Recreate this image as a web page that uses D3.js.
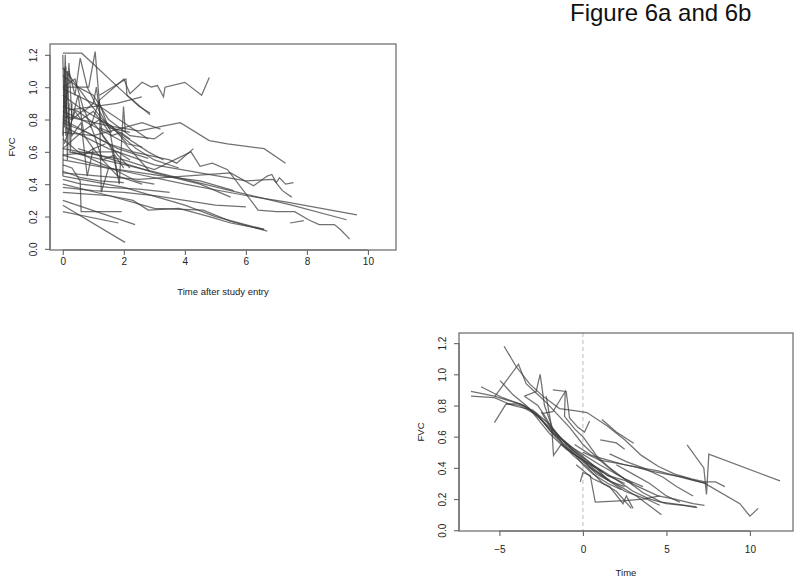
<!DOCTYPE html>
<html>
<head>
<meta charset="utf-8">
<script src="https://cdn.jsdelivr.net/npm/d3@7"></script>
<style>
  body { margin: 0; background: #fff; }
  svg { display: block; font-family: "Liberation Sans", Arial, sans-serif; }
</style>
</head>
<body>
<script>
// spaghetti plots, values (time, FVC) per subject

const titleText = 'Figure 6a and 6b'

// panel a: time after study entry
const xTicksA = [0, 2, 4, 6, 8, 10]
const yTicks = [0.0, 0.2, 0.4, 0.6, 0.8, 1.0, 1.2]
const subjectsA = [
  [[0,1.21],[0.62,1.21],[2.04,0.96],[2.86,0.83]],
  [[1.2,0.92],[2.0,1.05],[2.2,0.96],[2.6,1.03],[2.9,1.0],[3.1,1.01],[3.3,0.94],[3.35,1.0],[4.0,1.03],[4.55,0.95],[4.8,1.06]],
  [[0.1,0.82],[1.5,0.76],[2.5,0.73],[3.85,0.78],[4.8,0.67],[5.4,0.65],[6.6,0.62],[7.3,0.53]],
  [[0,0.47],[1.2,0.45],[2.5,0.43],[4.0,0.45],[5.5,0.47],[6.25,0.39],[6.7,0.45],[6.85,0.46],[7.0,0.41],[7.1,0.44],[7.3,0.40],[7.56,0.41]],
  [[0.1,0.75],[1.5,0.62],[3.0,0.52],[4.5,0.47],[6.0,0.42],[6.9,0.43],[7.2,0.36],[7.5,0.32]],
  [[0,0.55],[2,0.48],[4,0.40],[6,0.33],[7.3,0.29],[9.64,0.21]],
  [[0.2,0.6],[2.5,0.50],[5.5,0.36],[7.5,0.27],[9.3,0.18]],
  [[0,0.62],[2,0.55],[3,0.49],[4.2,0.6],[4.5,0.51],[4.9,0.53],[5.4,0.49],[6.4,0.24],[7.0,0.23],[7.6,0.23],[8.05,0.18],[8.4,0.15],[8.9,0.15],[9.1,0.12],[9.4,0.06]],
  [[7.45,0.16],[7.9,0.175]],
  [[0,0.40],[1.5,0.33],[3.0,0.25],[4.6,0.24],[5.5,0.17],[6.7,0.11]],
  [[0,0.45],[2,0.38],[4,0.27],[5,0.20],[6.6,0.12]],
  [[0,0.58],[1.5,0.5],[3.3,0.45],[4.5,0.42],[5.6,0.36]],
  [[0.5,0.62],[3,0.47],[4.5,0.40],[5.5,0.32]],
  [[0,0.30],[2.37,0.15]],
  [[0,0.27],[2.04,0.04]],
  [[0,0.23],[1.82,0.16]],
  [[0,0.52],[0.3,0.50],[0.57,0.42],[0.6,0.23],[1.93,0.23]],
  [[0,0.35],[1.5,0.33],[2.3,0.30],[2.8,0.24],[3.8,0.25],[4.8,0.20],[5.5,0.16],[6.6,0.12]],
  [[0.1,1.0],[0.85,1.0],[1.06,1.22],[1.2,0.9],[1.5,0.75],[2.2,0.72]],
  [[0.2,1.1],[0.4,0.95],[0.57,1.18],[0.8,1.0],[1.2,0.85],[1.6,0.72]],
  [[1.2,0.95],[2.07,1.05],[2.1,0.95],[2.5,0.88],[2.86,0.84]],
  [[0.2,0.86],[1.0,0.88],[1.77,0.90],[2.59,0.94]],
  [[0,0.99],[1.22,0.88],[2.0,0.78],[2.8,0.68]],
  [[1.2,0.75],[1.55,0.72],[1.85,0.40],[1.99,0.88],[2.05,0.72]],
  [[0.9,0.75],[1.2,0.92],[1.26,0.35],[1.5,0.5]],
  [[0,0.45],[0.05,1.12],[0.1,0.7],[0.15,1.1],[0.25,0.6],[0.3,0.9]],
  [[0,0.7],[0.08,1.2],[0.12,0.85],[0.2,1.15],[0.3,0.8],[0.5,0.95],[0.7,0.7],[1.0,0.62]],
  [[0,1.12],[0.3,1.05],[0.8,0.92],[1.3,0.8],[2.0,0.70],[2.8,0.60],[3.3,0.55]],
  [[0,1.07],[0.5,1.0],[1.0,0.95],[1.5,0.80],[2.2,0.70],[3.0,0.68],[3.3,0.72]],
  [[0,0.85],[0.6,0.80],[1.4,0.72],[2.0,0.66],[2.84,0.48]],
  [[0,0.80],[1.0,0.70],[1.8,0.62],[2.8,0.56]],
  [[0,0.78],[0.8,0.72],[1.5,0.65],[2.3,0.60],[3.5,0.55],[3.73,0.53],[4.28,0.62]],
  [[0,0.95],[0.5,0.88],[1.2,0.80],[1.8,0.72],[2.4,0.62],[3.0,0.55],[3.8,0.50]],
  [[0.3,0.6],[0.7,0.58],[1.0,0.62],[1.3,0.55],[1.7,0.58],[2.0,0.5]],
  [[0.05,0.92],[0.3,0.7],[0.6,0.78],[0.8,0.45],[1.0,0.62],[1.4,0.65]],
  [[0,0.68],[0.5,0.6],[1.0,0.55],[1.8,0.48],[2.4,0.42],[3.0,0.40]],
  [[0,0.38],[1.0,0.36],[2.0,0.35],[3.0,0.33],[4.0,0.30],[5.0,0.27],[6.0,0.26]],
  [[0,0.43],[0.6,0.40],[1.5,0.38],[2.5,0.37],[3.5,0.35]],
  [[0,0.58],[0.5,0.59],[1.2,0.60],[1.8,0.60],[2.2,0.55]],
  [[0,1.2],[0.05,0.75],[0.1,1.13],[0.15,0.55],[0.2,0.9]],
  [[0.05,0.65],[0.4,0.85],[0.6,0.8],[1.0,0.85],[1.3,0.78],[1.6,0.70],[1.9,0.72],[2.2,0.68]],
  [[0,0.88],[0.5,0.85],[1.0,0.78],[1.4,0.68],[1.8,0.58],[2.2,0.50]],
  [[0,1.0],[0.4,1.05],[0.7,0.85],[1.0,0.9],[1.1,1.0],[1.3,0.7],[1.6,0.62],[1.8,0.45]],
  [[0,0.72],[1,0.70],[2,0.75],[2.6,0.78],[3.2,0.74]],
  [[0,0.48],[0.3,0.46],[0.6,0.44],[1.2,0.42],[2.0,0.41]],
  [[0,0.62],[0.6,0.72],[1.2,0.80],[1.6,0.76],[2.1,0.65],[2.6,0.63]],
  [[0,0.82],[0.3,0.80],[0.7,0.86],[1.0,0.72],[1.3,0.55],[1.8,0.45],[2.6,0.40]]
]

// panel b: time relative to event (dashed line at 0)
const xTicksB = [-5, 0, 5, 10]
const subjectsB = [
  [[-6.7,0.89],[-5.3,0.86],[-3.8,0.81],[-2.8,0.75],[-1.8,0.62],[-0.5,0.52],[1.0,0.42],[2.5,0.33],[3.6,0.28]],
  [[-6.7,0.86],[-5.3,0.85],[-4.2,0.80],[-3.0,0.77],[-2.0,0.68],[-1.0,0.55],[0.2,0.45],[1.5,0.35],[2.5,0.30]],
  [[-6.1,0.92],[-4.8,0.85],[-3.5,0.80],[-2.4,0.70],[-1.4,0.60],[-0.3,0.50],[0.8,0.40],[1.5,0.32]],
  [[-5.3,0.69],[-4.6,0.81],[-3.8,0.81],[-3.2,0.78],[-2.6,0.70],[-2.0,0.62],[-1.0,0.52],[0,0.45],[1.2,0.37]],
  [[-5.26,0.86],[-3.86,1.065],[-3.4,0.94],[-2.8,0.88],[-2.2,0.82],[-1.5,0.74],[-0.8,0.66],[0,0.55],[1.0,0.45],[2.0,0.36],[3.0,0.30]],
  [[-4.72,1.18],[-4.0,1.05],[-3.2,0.94],[-2.4,0.86],[-1.4,0.78],[-0.4,0.766],[0.24,0.755],[1.44,0.67],[2.5,0.58],[3.5,0.48],[4.5,0.41],[5.5,0.36],[6.5,0.33],[7.3,0.31],[7.94,0.31],[8.5,0.28]],
  [[-4.96,0.96],[-4.2,0.87],[-3.4,0.80],[-2.6,0.72],[-1.6,0.60],[-0.6,0.50],[0.4,0.40],[1.4,0.33],[2.4,0.27],[3.2,0.22],[4.7,0.10]],
  [[-3.5,0.86],[-2.8,0.89],[-2.56,1.0],[-2.3,0.80],[-1.8,0.65],[-1.2,0.55],[-0.6,0.48],[0.3,0.40],[1.2,0.30],[2.0,0.25],[2.9,0.14]],
  [[-2.4,0.75],[-1.8,0.76],[-1.06,0.89],[-1.1,0.73],[-0.5,0.65],[0,0.6],[0.8,0.48],[1.6,0.40],[2.6,0.32],[3.6,0.24],[4.7,0.18],[6.8,0.15]],
  [[-2.2,0.86],[-1.86,0.65],[-1.76,0.48],[-1.3,0.55],[-0.6,0.50],[0,0.42],[0.6,0.36],[1.5,0.30],[2.3,0.26]],
  [[-1.8,0.9],[-1.0,0.89],[-0.8,0.72],[-0.3,0.66],[0.1,0.63],[0.4,0.70]],
  [[-0.16,0.31],[0.0,0.37],[0.44,0.35],[0.74,0.18],[2.5,0.19],[3.6,0.20],[4.6,0.22]],
  [[1.14,0.71],[2.0,0.63],[3.04,0.558]],
  [[1.04,0.58],[2.0,0.56],[2.5,0.52]],
  [[-0.5,0.55],[0.5,0.48],[1.5,0.45],[2.5,0.42],[3.5,0.40],[4.5,0.38],[5.5,0.35],[6.6,0.32],[7.4,0.30]],
  [[0,0.50],[1.0,0.45],[2.0,0.43],[3.0,0.41],[4.0,0.38],[5.0,0.36],[6.0,0.34],[7.3,0.30],[9.4,0.17],[10.0,0.09],[10.5,0.14]],
  [[6.24,0.548],[7.24,0.40],[7.4,0.23],[7.54,0.488],[11.8,0.317]],
  [[0.5,0.42],[1.5,0.35],[2.5,0.32],[3.5,0.27],[4.5,0.22],[5.5,0.20],[6.6,0.17],[7.28,0.16]],
  [[0.2,0.44],[1.2,0.38],[2.2,0.31],[3.0,0.25],[4.0,0.20],[5.0,0.17],[6.0,0.16],[6.84,0.145]],
  [[1.6,0.49],[2.6,0.44],[3.6,0.40],[4.8,0.34],[5.6,0.28],[6.6,0.22]],
  [[-0.4,0.42],[0.6,0.33],[1.6,0.28],[2.4,0.17],[2.6,0.22],[3.0,0.14]],
  [[2.0,0.42],[3.0,0.36],[4.0,0.30],[5.0,0.22],[5.8,0.18]],
  [[-3.5,0.86],[-2.7,0.80],[-2.2,0.72],[-1.9,0.66],[-1.4,0.60],[-0.7,0.52],[0,0.46],[0.7,0.39],[1.6,0.32]],
  [[-4.6,0.81],[-3.8,0.80],[-2.6,0.73],[-2.0,0.64],[-1.3,0.56],[-0.6,0.49],[0,0.45],[0.8,0.36],[1.7,0.31],[2.5,0.28]],
  [[-2.5,0.76],[-1.8,0.63],[-1.0,0.56],[-0.3,0.48],[0.5,0.40],[1.5,0.32],[2.5,0.25],[3.8,0.20],[4.6,0.16]]
]

const panels = [
  { data: subjectsA, xTicks: xTicksA, xlim: [-0.42, 10.92], ylim: [-0.007, 1.267],
    box: {x0: 50, x1: 396, y0: 44, y1: 250}, xlab: 'Time after study entry', ylabX: 12,
    xPad: 3, refLine: false },
  { data: subjectsB, xTicks: xTicksB, xlim: [-7.42, 12.58], ylim: [-0.005, 1.265],
    box: {x0: 459, x1: 793, y0: 333, y1: 531}, xlab: 'Time', ylabX: 421,
    xPad: 10, refLine: true }
]

const svg = d3.select('body').append('svg')
  .attr('width', 800)
  .attr('height', 582)

svg.append('text')
  .attr('x', 570).attr('y', 21)
  .style('font-size', '24px')
  .attr('fill', '#111')
  .text(titleText)

const lineColor = '#3a3a3a'
const axisColor = '#666'

panels.forEach(p => {
  const b = p.box
  const x = d3.scaleLinear().domain(p.xlim).range([b.x0, b.x1])
  const y = d3.scaleLinear().domain(p.ylim).range([b.y1, b.y0])
  const g = svg.append('g')

  if (p.refLine) {
    g.append('line')
      .attr('x1', x(0)).attr('x2', x(0))
      .attr('y1', b.y0).attr('y2', b.y1)
      .attr('stroke', '#bbb').attr('stroke-dasharray', '4,3')
  }

  const line = d3.line().x(d => x(d[0])).y(d => y(d[1]))
  g.selectAll('path.subj')
    .data(p.data)
    .join('path')
    .attr('class', 'subj')
    .attr('d', line)
    .attr('fill', 'none')
    .attr('stroke', lineColor)
    .attr('stroke-opacity', 0.72)
    .attr('stroke-width', 1.25)

  g.append('rect')
    .attr('x', b.x0).attr('y', b.y0)
    .attr('width', b.x1 - b.x0).attr('height', b.y1 - b.y0)
    .attr('fill', 'none').attr('stroke', axisColor).attr('stroke-width', 1.2)

  // axes, R style: line from first to last tick, labels below
  const xAxis = g.append('g')
    .attr('transform', `translate(0,${b.y1})`)
    .call(d3.axisBottom(x).tickValues(p.xTicks).tickSize(5).tickPadding(p.xPad).tickFormat(d3.format('d')))
  const yAxis = g.append('g')
    .attr('transform', `translate(${b.x0},0)`)
    .call(d3.axisLeft(y).tickValues(yTicks).tickSize(5).tickFormat(d3.format('.1f')))

  ;[xAxis, yAxis].forEach(ax => {
    ax.select('.domain').remove()
    ax.selectAll('line').attr('stroke', axisColor).attr('stroke-width', 1.1)
    ax.selectAll('text').attr('fill', '#222').style('font-size', '10px')
      .style('font-family', '"Liberation Sans", Arial, sans-serif')
  })
  xAxis.append('line')
    .attr('x1', x(p.xTicks[0])).attr('x2', x(p.xTicks[p.xTicks.length - 1]))
    .attr('stroke', axisColor).attr('stroke-width', 1.1)
  yAxis.append('line')
    .attr('y1', y(yTicks[0])).attr('y2', y(yTicks[yTicks.length - 1]))
    .attr('stroke', axisColor).attr('stroke-width', 1.1)

  // rotated y tick labels like R
  yAxis.selectAll('.tick text')
    .attr('x', 0).attr('dy', null)
    .attr('text-anchor', 'middle')
    .attr('transform', 'translate(-13,0) rotate(-90)')

  g.append('text')
    .attr('x', (b.x0 + b.x1) / 2).attr('y', b.y1 + 45)
    .attr('text-anchor', 'middle')
    .style('font-size', '9.5px').attr('fill', '#222')
    .text(p.xlab)

  g.append('text')
    .attr('transform', `translate(${p.ylabX},${(b.y0 + b.y1) / 2}) rotate(-90)`)
    .attr('text-anchor', 'middle')
    .attr('dy', '0.35em')
    .style('font-size', '9.5px').attr('fill', '#222')
    .text('FVC')
})
</script>
</body>
</html>
